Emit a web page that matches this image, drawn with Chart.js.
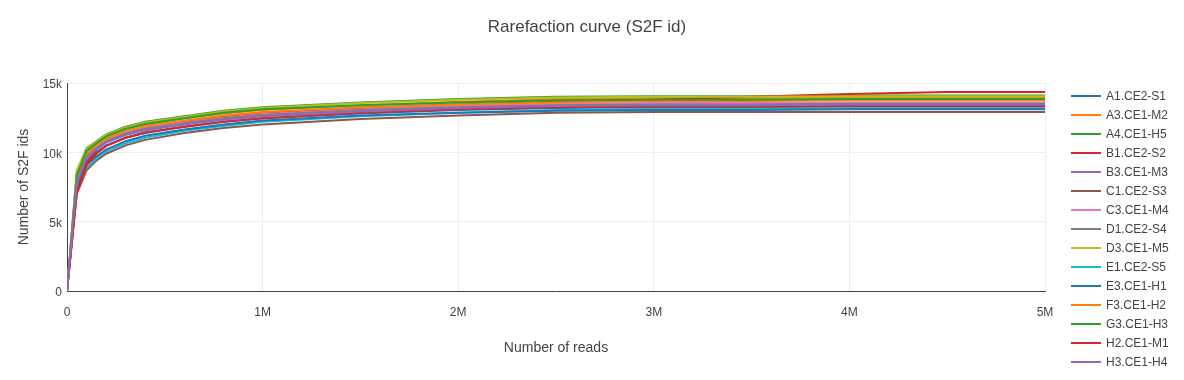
<!DOCTYPE html>
<html lang="en">
<head>
    <meta charset="UTF-8">
    <title>Rarefaction curve (S2F id)</title>
    <script src="https://cdn.jsdelivr.net/npm/chart.js"></script>
    <style>
        html, body { margin: 0; padding: 0; background: #fff; }
        .chart-box { width: 1184px; height: 380px; position: relative; }
    </style>
</head>
<body>
    <div class="chart-box">
        <canvas id="rarefactionChart"></canvas>
    </div>

    <script>
        // Sub-sampling depths (number of reads)
        const reads = [0, 50000, 100000, 150000, 200000, 300000, 400000, 600000, 800000, 1000000,
                       1500000, 2000000, 2500000, 3000000, 3500000, 4000000, 4500000, 5000000];

        const sampleNames = ['A1.CE2-S1', 'A3.CE1-M2', 'A4.CE1-H5', 'B1.CE2-S2', 'B3.CE1-M3',
                             'C1.CE2-S3', 'C3.CE1-M4', 'D1.CE2-S4', 'D3.CE1-M5', 'E1.CE2-S5',
                             'E3.CE1-H1', 'F3.CE1-H2', 'G3.CE1-H3', 'H2.CE1-M1', 'H3.CE1-H4'];

        const colors = ['#1f77b4', '#ff7f0e', '#2ca02c', '#d62728', '#9467bd',
                        '#8c564b', '#e377c2', '#7f7f7f', '#bcbd22', '#17becf',
                        '#1f77b4', '#ff7f0e', '#2ca02c', '#d62728', '#9467bd'];

        // Number of S2F ids found at each depth
        const a1 = [0, 7600, 9400, 10000, 10500, 11050, 11400, 11850, 12200, 12450, 12800, 13050, 13200, 13250, 13250, 13300, 13300, 13300];
        const a3 = [0, 8400, 10100, 10650, 11150, 11700, 12050, 12450, 12800, 13050, 13400, 13650, 13850, 13900, 13900, 13950, 13950, 13950];
        const a4 = [0, 8600, 10300, 10800, 11300, 11850, 12200, 12600, 13000, 13250, 13600, 13850, 14000, 14050, 14050, 14100, 14100, 14100];
        const b1 = [0, 7300, 9200, 10200, 10900, 11450, 11850, 12250, 12600, 12850, 13200, 13450, 13650, 13800, 14000, 14200, 14350, 14350];
        const b3 = [0, 8200, 9800, 10350, 10800, 11300, 11650, 12050, 12400, 12650, 13000, 13250, 13450, 13500, 13500, 13550, 13550, 13550];
        const c1 = [0, 7000, 8700, 9400, 9900, 10500, 10900, 11400, 11750, 12000, 12400, 12650, 12850, 12900, 12900, 12900, 12900, 12900];
        const c3 = [0, 8100, 9900, 10450, 10900, 11450, 11800, 12150, 12500, 12750, 13100, 13350, 13500, 13550, 13550, 13600, 13600, 13600];
        const d1 = [0, 7900, 9700, 10300, 10800, 11350, 11700, 12100, 12450, 12700, 13050, 13250, 13400, 13450, 13450, 13500, 13500, 13500];
        const d3 = [0, 8700, 10250, 10750, 11250, 11800, 12150, 12550, 12950, 13200, 13550, 13800, 13950, 14000, 14000, 14050, 14050, 14050];
        const e1 = [0, 7400, 8900, 9550, 10050, 10650, 11050, 11550, 11900, 12200, 12600, 12850, 13050, 13150, 13150, 13200, 13200, 13200];
        const e3 = [0, 7300, 9100, 9700, 10200, 10800, 11200, 11650, 12000, 12300, 12650, 12850, 13000, 13050, 13050, 13100, 13100, 13100];
        const f3 = [0, 8000, 9900, 10500, 11000, 11550, 11900, 12300, 12650, 12900, 13250, 13450, 13600, 13700, 13700, 13750, 13750, 13750];
        const g3 = [0, 8300, 10100, 10650, 11150, 11700, 12050, 12450, 12850, 13100, 13400, 13600, 13750, 13800, 13800, 13850, 13850, 13850];
        const h2 = [0, 7100, 9100, 9900, 10450, 11050, 11450, 11850, 12200, 12450, 12850, 13100, 13250, 13300, 13300, 13350, 13350, 13350];
        const h3 = [0, 7800, 9600, 10200, 10700, 11250, 11600, 12000, 12350, 12600, 12950, 13200, 13350, 13400, 13400, 13450, 13450, 13450];

        const seriesValues = [a1, a3, a4, b1, b3, c1, c3, d1, d3, e1, e3, f3, g3, h2, h3];

        const xTicks = [0, 1000000, 2000000, 3000000, 4000000, 5000000];
        const yTicks = [0, 5000, 10000, 15000];

        const FONT = '"Liberation Sans", Arial, sans-serif';
        const TEXT = '#444';

        // title + legend drawn by hand so they sit where plotly put them
        const titleLegendPlugin = {
            id: 'titleLegend',
            afterDraw(chart) {
                const ctx = chart.ctx;
                ctx.save();
                ctx.fillStyle = TEXT;
                ctx.textBaseline = 'middle';
                ctx.textAlign = 'center';
                ctx.font = '17px ' + FONT;
                ctx.fillText('Rarefaction curve (S2F id)', 587, 27);

                ctx.font = '12px ' + FONT;
                ctx.textAlign = 'left';
                chart.data.datasets.forEach((ds, i) => {
                    const y = 96 + i * 19;
                    ctx.strokeStyle = ds.borderColor;
                    ctx.lineWidth = 2;
                    ctx.beginPath();
                    ctx.moveTo(1071, y);
                    ctx.lineTo(1101, y);
                    ctx.stroke();
                    ctx.fillStyle = TEXT;
                    ctx.fillText(ds.label, 1106, y + 1);
                });
                ctx.restore();
            }
        };

        const datasets = sampleNames.map((name, i) => ({
            label: name,
            data: reads.map((r, j) => ({ x: r, y: seriesValues[i][j] })),
            borderColor: colors[i],
            backgroundColor: colors[i],
            borderWidth: 2,
            pointRadius: 0,
            tension: 0,
            fill: false,
            order: sampleNames.length - i
        }));

        new Chart(document.getElementById('rarefactionChart').getContext('2d'), {
            type: 'line',
            data: { datasets },
            plugins: [titleLegendPlugin],
            options: {
                responsive: true,
                maintainAspectRatio: false,
                animation: false,
                layout: { padding: { top: 83, right: 139, bottom: 21, left: 0 } },
                plugins: {
                    legend: { display: false },
                    title: { display: false },
                    tooltip: { enabled: false }
                },
                scales: {
                    x: {
                        type: 'linear',
                        min: 0,
                        max: 5000000,
                        afterFit: s => { s.height = 68; },
                        afterBuildTicks: s => { s.ticks = xTicks.map(v => ({ value: v })); },
                        ticks: {
                            color: TEXT,
                            font: { family: FONT, size: 12 },
                            padding: 14,
                            maxRotation: 0,
                            callback: v => v === 0 ? '0' : (v / 1000000) + 'M'
                        },
                        grid: { color: '#eee', drawTicks: false },
                        border: { color: '#444', width: 1 },
                        title: {
                            display: true,
                            text: 'Number of reads',
                            color: TEXT,
                            font: { family: FONT, size: 14 },
                            padding: { top: 0, bottom: 2 }
                        }
                    },
                    y: {
                        min: 0,
                        max: 15000,
                        afterFit: s => { s.width = 67; },
                        afterBuildTicks: s => { s.ticks = yTicks.map(v => ({ value: v })); },
                        ticks: {
                            color: TEXT,
                            font: { family: FONT, size: 12 },
                            padding: 5,
                            labelOffset: 2,
                            callback: v => v === 0 ? '0' : (v / 1000) + 'k'
                        },
                        grid: { color: '#eee', drawTicks: false },
                        border: { color: '#444', width: 1 },
                        title: {
                            display: true,
                            text: 'Number of S2F ids',
                            color: TEXT,
                            font: { family: FONT, size: 14 },
                            padding: { top: 16, bottom: 0 }
                        }
                    }
                }
            }
        });
    </script>
</body>
</html>
